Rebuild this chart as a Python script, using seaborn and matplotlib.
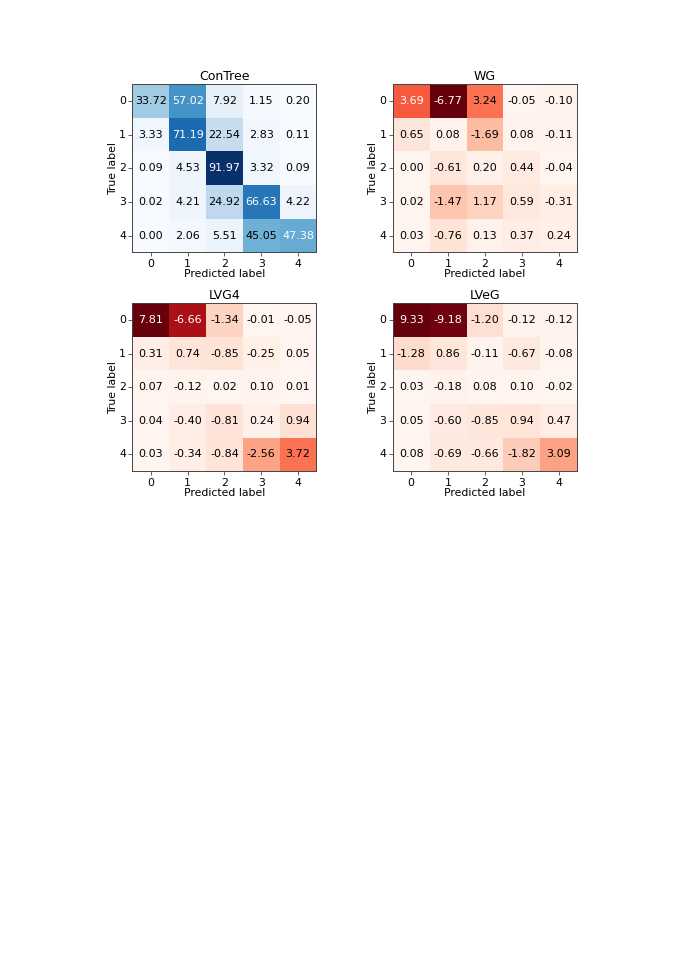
import numpy as np
import pandas as pd
import matplotlib
matplotlib.use("Agg")
import matplotlib.pyplot as plt
import seaborn as sns

# --- Data ---
labels = [0, 1, 2, 3, 4]

contree = [
    [33.72, 57.02, 7.92, 1.15, 0.20],
    [3.33, 71.19, 22.54, 2.83, 0.11],
    [0.09, 4.53, 91.97, 3.32, 0.09],
    [0.02, 4.21, 24.92, 66.63, 4.22],
    [0.00, 2.06, 5.51, 45.05, 47.38],
]
wg = [
    [3.69, -6.77, 3.24, -0.05, -0.10],
    [0.65, 0.08, -1.69, 0.08, -0.11],
    [0.00, -0.61, 0.20, 0.44, -0.04],
    [0.02, -1.47, 1.17, 0.59, -0.31],
    [0.03, -0.76, 0.13, 0.37, 0.24],
]
lvg4 = [
    [7.81, -6.66, -1.34, -0.01, -0.05],
    [0.31, 0.74, -0.85, -0.25, 0.05],
    [0.07, -0.12, 0.02, 0.10, 0.01],
    [0.04, -0.40, -0.81, 0.24, 0.94],
    [0.03, -0.34, -0.84, -2.56, 3.72],
]
lveg = [
    [9.33, -9.18, -1.20, -0.12, -0.12],
    [-1.28, 0.86, -0.11, -0.67, -0.08],
    [0.03, -0.18, 0.08, 0.10, -0.02],
    [0.05, -0.60, -0.85, 0.94, 0.47],
    [0.08, -0.69, -0.66, -1.82, 3.09],
]

panels = [
    ("ConTree", contree, "Blues", [0.196, 0.736, 0.272, 0.176]),
    ("WG", wg, "Reds", [0.581, 0.736, 0.273, 0.176]),
    ("LVG4", lvg4, "Reds", [0.196, 0.507, 0.272, 0.176]),
    ("LVeG", lveg, "Reds", [0.581, 0.507, 0.273, 0.176]),
]

plt.rcParams["font.family"] = "DejaVu Sans"

fig = plt.figure(figsize=(6.76, 9.56), dpi=100)

for title, vals, cmap, rect in panels:
    ax = fig.add_axes(rect)
    df = pd.DataFrame(vals, index=labels, columns=labels)
    mag = df.abs()
    sns.heatmap(mag, annot=df, fmt=".2f", cmap=cmap, vmin=0, vmax=mag.values.max(),
                cbar=False, ax=ax, annot_kws={"fontsize": 8})
    # white text on the darker half of the colour range
    thresh = mag.values.max() / 2.0
    for t, v in zip(ax.texts, mag.values.flatten()):
        t.set_color("white" if v > thresh else "black")
    for s in ax.spines.values():
        s.set_visible(True)
        s.set_color("#444444")
        s.set_linewidth(0.7)
    ax.tick_params(axis="both", length=2.6, width=0.6, pad=2.0, labelsize=7.8, color="#444444")
    ax.set_yticklabels(labels, rotation=0)
    ax.set_xticklabels(labels, rotation=0)
    ax.set_title(title, fontsize=9, pad=3.2)
    ax.set_xlabel("Predicted label", fontsize=7.8, labelpad=0.3)
    ax.set_ylabel("True label", fontsize=7.8, labelpad=0.8)

fig.savefig("out.png", dpi=100)
